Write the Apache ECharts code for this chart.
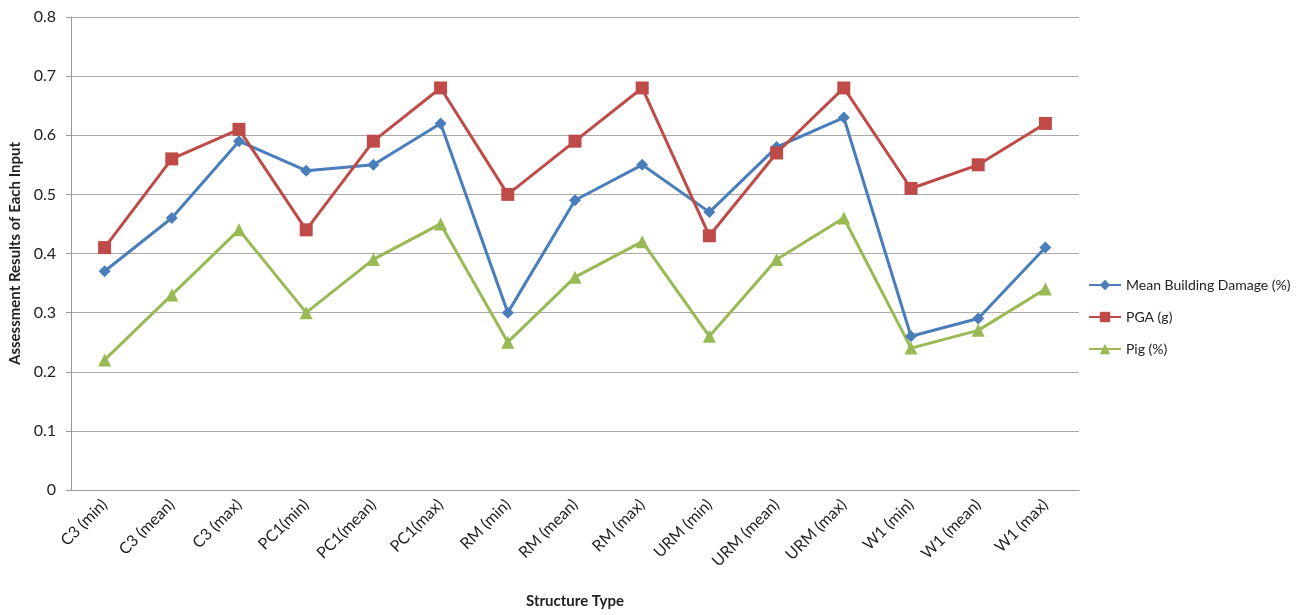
<!DOCTYPE html>
<html><head><meta charset="utf-8">
<script src="https://cdn.jsdelivr.net/npm/echarts@6/dist/echarts.min.js"></script>
<style>html,body{margin:0;padding:0;background:#fff}#c{width:1298px;height:615px}</style>
</head><body><div id="c"></div>
<script>
const categories = ['C3 (min)','C3 (mean)','C3 (max)','PC1(min)','PC1(mean)','PC1(max)','RM (min)','RM (mean)','RM (max)','URM (min)','URM (mean)','URM (max)','W1 (min)','W1 (mean)','W1 (max)'];
const meanDamage = [0.37,0.46,0.59,0.54,0.55,0.62,0.30,0.49,0.55,0.47,0.58,0.63,0.26,0.29,0.41];
const pga = [0.41,0.56,0.61,0.44,0.59,0.68,0.50,0.59,0.68,0.43,0.57,0.68,0.51,0.55,0.62];
const pig = [0.22,0.33,0.44,0.30,0.39,0.45,0.25,0.36,0.42,0.26,0.39,0.46,0.24,0.27,0.34];
const yTicks = [0,0.1,0.2,0.3,0.4,0.5,0.6,0.7,0.8];

const font = 'Lato, "Open Sans", "Liberation Sans", sans-serif';
const chart = echarts.init(document.getElementById('c'));
chart.setOption({
  animation: false,
  textStyle: {fontFamily: font},
  grid: {left: 71, right: 219, top: 17, bottom: 125, containLabel: false, outerBoundsMode: 'none'},
  legend: {
    orient: 'vertical', left: 1083, top: 273, itemGap: 18,
    itemWidth: 32, itemHeight: 13, itemGap: 18,
    textStyle: {fontSize: 14, color: '#222', fontFamily: font},
    data: ['Mean Building Damage (%)','PGA (g)','Pig (%)']
  },
  xAxis: {
    type: 'category', data: categories, boundaryGap: true,
    name: 'Structure Type', nameLocation: 'middle', nameGap: 104,
    nameTextStyle: {fontWeight: 'bold', fontSize: 15, color: '#222'},
    axisLine: {lineStyle: {color: '#999'}},
    axisTick: {show: false},
    axisLabel: {rotate: 45, fontSize: 16, color: '#222', interval: 0, margin: 12}
  },
  yAxis: {
    type: 'value', min: 0, max: 0.8, interval: 0.1,
    name: 'Assessment Results of Each Input', nameLocation: 'middle', nameGap: 48,
    nameTextStyle: {fontWeight: 'bold', fontSize: 15, color: '#222'},
    axisLine: {show: true, lineStyle: {color: '#999'}},
    axisTick: {show: true, length: 5, lineStyle: {color: '#999'}},
    splitLine: {lineStyle: {color: '#aaa'}},
    axisLabel: {fontSize: 16, color: '#222', margin: 15,
      formatter: v => { const t = yTicks.find(x => Math.abs(x - v) < 1e-9); return t === 0 ? '0' : t.toFixed(1); }}
  },
  series: [
    {name: 'Mean Building Damage (%)', type: 'line', data: meanDamage, symbol: 'diamond', symbolSize: 12,
     itemStyle: {color: '#4A7EBB'}, lineStyle: {width: 3, color: '#4A7EBB'}},
    {name: 'PGA (g)', type: 'line', data: pga, symbol: 'rect', symbolSize: 13,
     itemStyle: {color: '#BE4B48'}, lineStyle: {width: 3, color: '#BE4B48'}},
    {name: 'Pig (%)', type: 'line', data: pig, symbol: 'triangle', symbolSize: 13,
     itemStyle: {color: '#98B954'}, lineStyle: {width: 3, color: '#98B954'}}
  ]
});
</script></body></html>
